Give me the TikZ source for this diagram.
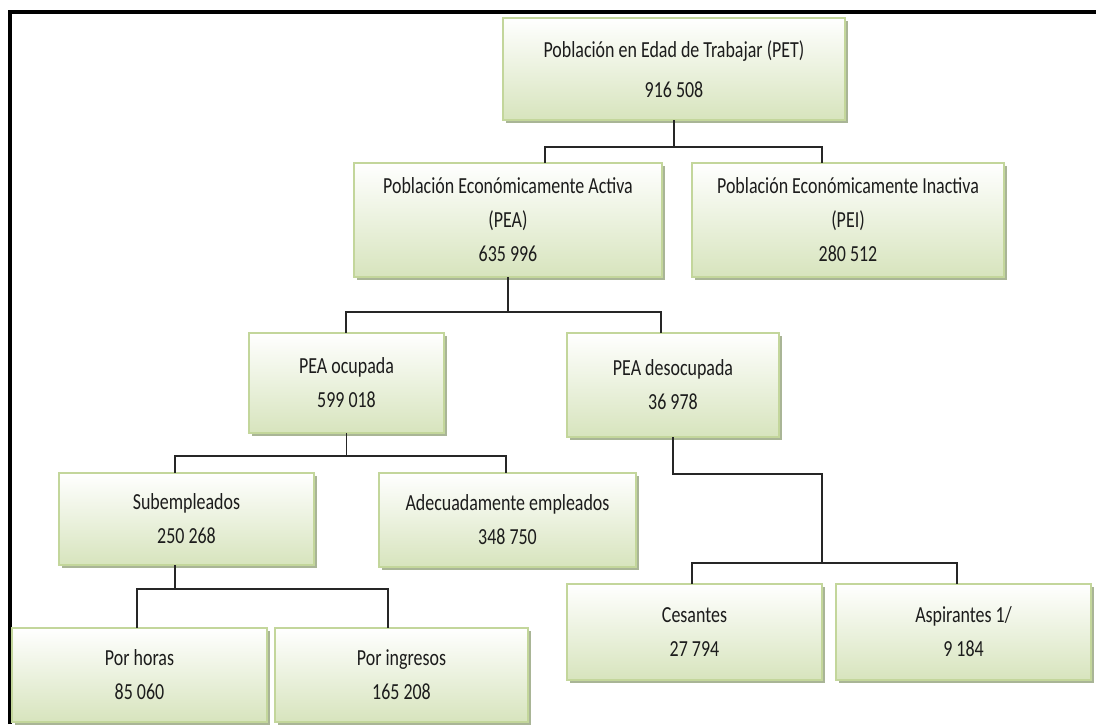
\documentclass[tikz,border=0pt]{standalone}
\usepackage{fontspec}
\setmainfont{Carlito}[FakeStretch=0.78]
\usepackage{tikz}
\usetikzlibrary{shadows}
\definecolor{verdecaja}{HTML}{D7E4BD}
\definecolor{bordecaja}{HTML}{C3D69B}
\definecolor{sombra}{HTML}{A9B596}
\definecolor{texto}{HTML}{1C1C1C}

\begin{document}
\begin{tikzpicture}[x=1pt,y=-1pt,line cap=rect]
	\tikzstyle{caja}=[rectangle,draw=bordecaja,line width=2pt,top color=white,bottom color=verdecaja,
		drop shadow={shadow xshift=3pt,shadow yshift=-3pt,fill=sombra,opacity=1},
		text=texto,align=center,font=\fontsize{23}{34}\selectfont];
	\tikzstyle{linea}=[draw=black!85,line width=1.6pt];
	\useasboundingbox (0,0) rectangle (1096,724);
	%% frame
	\draw[line width=4pt,line cap=butt] (10,724) -- (10,11.5) -- (1096,11.5);
	%% boxes
	\node[caja,minimum width=342pt,minimum height=102pt] (pet) at (674,69)    {Población en Edad de Trabajar (PET)\\[6pt]916 508};
	\node[caja,minimum width=308pt,minimum height=114pt] (pea) at (508,220)   {Población Económicamente Activa\\(PEA)\\635 996};
	\node[caja,minimum width=312pt,minimum height=114pt] (pei) at (848,220)   {Población Económicamente Inactiva\\(PEI)\\280 512};
	\node[caja,minimum width=195pt,minimum height=100pt] (ocu) at (346.5,383) {PEA ocupada\\599 018};
	\node[caja,minimum width=212pt,minimum height=104pt] (des) at (673,385)   {PEA desocupada\\36 978};
	\node[caja,minimum width=255pt,minimum height=92pt]  (sub) at (186.5,519) {Subempleados\\250 268};
	\node[caja,minimum width=257pt,minimum height=94pt]  (ade) at (507.5,520) {Adecuadamente empleados\\348 750};
	\node[caja,minimum width=255pt,minimum height=94pt]  (hor) at (139.5,675) {Por horas\\85 060};
	\node[caja,minimum width=253pt,minimum height=94pt]  (ing) at (401.5,675) {Por ingresos\\165 208};
	\node[caja,minimum width=255pt,minimum height=96pt]  (ces) at (694.5,632) {Cesantes\\27 794};
	\node[caja,minimum width=255pt,minimum height=96pt]  (asp) at (963.5,632) {Aspirantes 1/\\9 184};
	%% bus ends
	\coordinate (b1l) at (545,147); \coordinate (b1r) at (822,147);
	\coordinate (b2l) at (346,312); \coordinate (b2r) at (661,312);
	\coordinate (b3l) at (175,456); \coordinate (b3r) at (506,456);
	\coordinate (b4l) at (137,589); \coordinate (b4r) at (388,589); \coordinate (s4) at (175,589);
	\coordinate (c1)  at (822,474);
	\coordinate (b5l) at (692,563); \coordinate (b5r) at (957,563);
	%% PET
	\draw[linea] (pet.south) -- (pet.south |- b1l);
	\draw[linea] (b1l) -- (b1r);
	\draw[linea] (b1l) -- (b1l |- pea.north);
	\draw[linea] (b1r) -- (b1r |- pei.north);
	%% PEA
	\draw[linea] (pea.south) -- (pea.south |- b2l);
	\draw[linea] (b2l) -- (b2r);
	\draw[linea] (b2l) -- (b2l |- ocu.north);
	\draw[linea] (b2r) -- (b2r |- des.north);
	%% PEA ocupada
	\draw[linea] (ocu.south) -- (ocu.south |- b3l);
	\draw[linea] (b3l) -- (b3r);
	\draw[linea] (b3l) -- (b3l |- sub.north);
	\draw[linea] (b3r) -- (b3r |- ade.north);
	%% subempleados
	\draw[linea] (s4 |- sub.south) -- (s4);
	\draw[linea] (b4l) -- (b4r);
	\draw[linea] (b4l) -- (b4l |- hor.north);
	\draw[linea] (b4r) -- (b4r |- ing.north);
	%% PEA desocupada
	\draw[linea] (des.south) |- (c1) -- (c1 |- b5l);
	\draw[linea] (b5l) -- (b5r);
	\draw[linea] (b5l) -- (b5l |- ces.north);
	\draw[linea] (b5r) -- (b5r |- asp.north);
\end{tikzpicture}
\end{document}
